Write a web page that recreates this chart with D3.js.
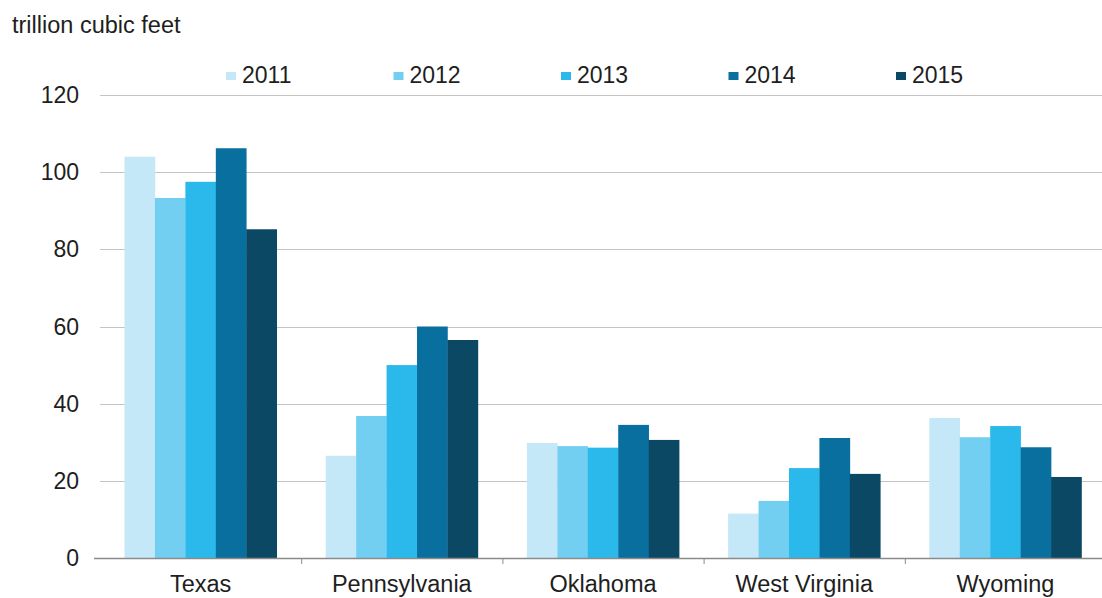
<!DOCTYPE html>
<html>
<head>
<meta charset="utf-8">
<script src="https://cdn.jsdelivr.net/npm/d3@7/dist/d3.min.js"></script>
<style>
  html, body { margin: 0; padding: 0; background: #ffffff; }
  svg text { font-family: "Liberation Sans", Arial, sans-serif; fill: #1e1e1e; }
</style>
</head>
<body>
<svg id="chart" width="1102" height="598"></svg>
<script>
// Proved reserves by state, trillion cubic feet
const states = ["Texas", "Pennsylvania", "Oklahoma", "West Virginia", "Wyoming"];
const years = ["2011", "2012", "2013", "2014", "2015"];
const v2011 = [104.0, 26.5, 29.8, 11.5, 36.3];
const v2012 = [93.3, 36.8, 29.0, 14.8, 31.3];
const v2013 = [97.5, 50.0, 28.6, 23.3, 34.2];
const v2014 = [106.2, 60.0, 34.5, 31.1, 28.7];
const v2015 = [85.2, 56.5, 30.6, 21.8, 21.0];
const seriesValues = [v2011, v2012, v2013, v2014, v2015];
const yTicks = [0, 20, 40, 60, 80, 100, 120];
const colors = ["#c4e8f7", "#72cff2", "#2bb9ec", "#086f9f", "#0a4863"];

const svg = d3.select("#chart");
const plotLeft = 100, plotRight = 1106, plotTop = 95, plotBottom = 558;

const x = d3.scaleBand().domain(states).range([plotLeft, plotRight]).paddingInner(0).paddingOuter(0);
const xInner = d3.scaleBand().domain(years).range([0, x.bandwidth()]).paddingOuter(0.805).paddingInner(0);
const y = d3.scaleLinear().domain([0, 120]).range([plotBottom, plotTop]);

// horizontal gridlines
svg.append("g")
  .selectAll("line")
  .data(yTicks.filter(d => d > 0))
  .join("line")
  .attr("x1", plotLeft).attr("x2", plotRight - 4)
  .attr("y1", d => Math.round(y(d)) + 0.5).attr("y2", d => Math.round(y(d)) + 0.5)
  .attr("stroke", "#c4c4c4").attr("stroke-width", 1.2);

// y tick labels
svg.append("g")
  .selectAll("text")
  .data(yTicks)
  .join("text")
  .attr("x", 79)
  .attr("y", d => y(d) + 8)
  .attr("text-anchor", "end")
  .attr("font-size", 23)
  .text(d => d);

// bars
const groups = svg.append("g")
  .selectAll("g")
  .data(years.map((yr, i) => ({ yr, i, vals: seriesValues[i] })))
  .join("g")
  .attr("fill", d => colors[d.i]);

groups.selectAll("rect")
  .data(d => d.vals.map((v, k) => ({ yr: d.yr, state: states[k], v })))
  .join("rect")
  .attr("x", d => x(d.state) + xInner(d.yr))
  .attr("width", xInner.bandwidth() + 0.3)
  .attr("y", d => y(d.v))
  .attr("height", d => y(0) - y(d.v));

// category axis
const xAxis = d3.axisBottom(x).tickSize(0).tickPadding(17);
const gx = svg.append("g").attr("transform", `translate(0,${plotBottom})`).call(xAxis);
gx.select(".domain").attr("stroke", "#8a8a8a").attr("stroke-width", 1.3)
  .attr("d", `M${plotLeft - 6},0.5H${plotRight}`);
gx.selectAll(".tick text").attr("font-size", 23.5).attr("fill", "#1e1e1e")
  .attr("font-family", "Liberation Sans, Arial, sans-serif");
// boundary tick marks between categories
gx.append("g").selectAll("line")
  .data(states.slice(1))
  .join("line")
  .attr("x1", d => x(d) + 0.5).attr("x2", d => x(d) + 0.5)
  .attr("y1", 0).attr("y2", 6)
  .attr("stroke", "#8a8a8a");

// unit label
svg.append("text")
  .attr("x", 12).attr("y", 33)
  .attr("font-size", 23.5)
  .text("trillion cubic feet");

// legend
const legend = svg.append("g")
  .selectAll("g")
  .data(years)
  .join("g")
  .attr("transform", (d, i) => `translate(${242 + i * 167.5},0)`);
legend.append("rect")
  .attr("x", -16).attr("y", 72).attr("width", 10).attr("height", 8)
  .attr("fill", (d, i) => colors[i]);
legend.append("text")
  .attr("x", 0).attr("y", 83)
  .attr("font-size", 23)
  .text(d => d);
</script>
</body>
</html>
